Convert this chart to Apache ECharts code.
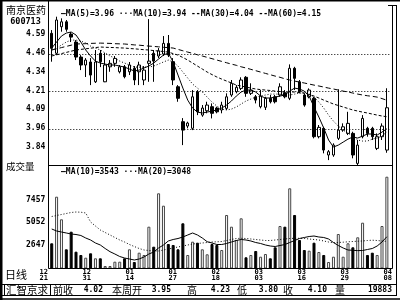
<!DOCTYPE html>
<html><head><meta charset="utf-8">
<script src="https://cdn.jsdelivr.net/npm/echarts@6/dist/echarts.min.js"></script>
<style>html,body{margin:0;padding:0;background:#fff}#c{width:400px;height:300px}</style>
</head><body><div id="c"></div>
<script>
const opens=[4.596,4.463,4.640,4.673,4.591,4.538,4.438,4.385,4.405,4.273,4.463,4.273,4.373,4.396,4.340,4.373,4.340,4.363,4.340,4.285,4.396,4.463,4.445,4.458,4.529,4.407,4.240,4.007,3.978,3.963,4.207,4.051,4.080,4.107,4.098,4.085,4.096,4.185,4.207,4.229,4.303,4.196,4.173,4.107,4.103,4.163,4.173,4.185,4.200,4.163,4.363,4.273,4.185,4.173,4.163,3.907,3.963,3.785,3.785,3.896,3.951,3.929,3.929,3.729,3.907,3.963,3.963,3.829,3.907,3.818];
const closes=[4.496,4.685,4.673,4.623,4.571,4.438,4.385,4.418,4.318,4.405,4.407,4.385,4.396,4.429,4.373,4.307,4.385,4.285,4.385,4.351,4.411,4.411,4.480,4.529,4.451,4.285,4.163,3.951,3.998,4.173,4.073,4.098,4.118,4.063,4.073,4.118,4.173,4.263,4.236,4.285,4.196,4.218,4.151,4.178,4.163,4.140,4.140,4.240,4.173,4.363,4.296,4.207,4.118,4.218,3.907,3.969,3.818,3.807,3.851,3.951,3.973,3.996,3.785,3.851,4.029,3.929,3.907,3.907,3.978,4.100];
const highs=[4.618,4.707,4.696,4.685,4.605,4.551,4.451,4.431,4.431,4.485,4.485,4.465,4.418,4.445,4.385,4.385,4.405,4.378,4.407,4.378,4.691,4.485,4.498,4.578,4.585,4.431,4.251,4.031,4.007,4.218,4.218,4.118,4.140,4.129,4.107,4.140,4.196,4.285,4.251,4.303,4.311,4.263,4.185,4.218,4.173,4.185,4.185,4.263,4.218,4.389,4.373,4.285,4.196,4.229,4.173,3.985,3.973,3.818,3.863,4.223,3.996,4.073,3.940,3.885,4.051,3.973,3.973,3.929,3.996,4.230];
const lows=[4.407,4.451,4.607,4.607,4.538,4.418,4.351,4.305,4.251,4.265,4.371,4.271,4.340,4.373,4.329,4.296,4.318,4.251,4.251,4.251,4.273,4.273,4.431,4.445,4.438,4.251,4.140,3.851,3.963,3.951,4.051,4.040,4.063,4.029,4.063,4.063,4.085,4.173,4.196,4.218,4.173,4.185,4.129,4.096,4.085,4.129,4.129,4.173,4.163,4.151,4.218,4.196,4.107,4.163,3.896,3.896,3.796,3.751,3.773,3.885,3.940,3.918,3.763,3.718,3.896,3.907,3.885,3.818,3.885,3.800];
const ma5=[4.498,4.538,4.578,4.598,4.605,4.585,4.538,4.485,4.445,4.411,4.398,4.391,4.385,4.385,4.378,4.371,4.358,4.345,4.351,4.365,4.378,4.398,4.425,4.451,4.465,4.405,4.318,4.231,4.151,4.098,4.071,4.065,4.071,4.078,4.085,4.098,4.118,4.145,4.178,4.205,4.218,4.218,4.205,4.178,4.165,4.165,4.171,4.178,4.185,4.211,4.231,4.225,4.211,4.178,4.105,4.038,3.965,3.885,3.838,3.851,3.871,3.891,3.905,3.898,3.911,3.925,3.925,3.918,3.938,3.960];
const ma10=[4.485,4.498,4.518,4.538,4.551,4.551,4.545,4.531,4.511,4.498,4.485,4.465,4.445,4.431,4.411,4.398,4.385,4.371,4.371,4.371,4.371,4.378,4.391,4.405,4.418,4.405,4.378,4.338,4.298,4.258,4.231,4.205,4.171,4.138,4.111,4.091,4.085,4.091,4.105,4.125,4.145,4.158,4.171,4.178,4.185,4.191,4.191,4.191,4.185,4.185,4.191,4.198,4.198,4.191,4.171,4.138,4.098,4.051,4.011,3.978,3.951,3.931,3.911,3.885,3.878,3.878,3.891,3.898,3.911,3.940];
const ma30=[4.445,4.453,4.461,4.469,4.477,4.485,4.489,4.493,4.497,4.501,4.505,4.503,4.502,4.501,4.499,4.498,4.495,4.493,4.490,4.487,4.485,4.481,4.478,4.475,4.471,4.461,4.451,4.435,4.418,4.398,4.378,4.358,4.338,4.321,4.305,4.291,4.278,4.265,4.251,4.245,4.238,4.231,4.225,4.221,4.218,4.215,4.211,4.208,4.205,4.205,4.205,4.201,4.198,4.188,4.178,4.165,4.151,4.138,4.125,4.115,4.105,4.095,4.085,4.078,4.071,4.065,4.058,4.051,4.045,4.040];
const ma60=[4.485,4.493,4.501,4.509,4.517,4.525,4.526,4.527,4.529,4.530,4.531,4.530,4.529,4.527,4.526,4.525,4.522,4.519,4.517,4.514,4.511,4.509,4.506,4.503,4.501,4.498,4.489,4.480,4.471,4.463,4.453,4.445,4.436,4.427,4.418,4.409,4.400,4.391,4.383,4.373,4.365,4.356,4.347,4.338,4.329,4.320,4.311,4.303,4.293,4.285,4.278,4.271,4.265,4.258,4.251,4.245,4.238,4.231,4.225,4.218,4.211,4.205,4.198,4.191,4.185,4.180,4.176,4.171,4.161,4.150];
const volumes=[2848,7764,5380,2215,4072,1962,1614,1329,1793,1265,1265,453,453,907,907,1265,2215,875,1856,1614,4599,2489,8123,6815,2774,2669,2215,4958,1614,3017,2911,2215,1687,2774,2669,2141,5834,4599,3196,5485,1371,1614,2036,1434,1719,1265,2426,4673,4599,8650,5834,3196,2141,2067,2911,1930,1614,875,1434,3829,1434,2848,2426,3481,5021,1614,1856,1614,4673,9874];
const vma10=[4357,4146,4040,3935,3829,3776,3671,3407,3196,2880,2669,2299,1962,1719,1455,1297,1192,1086,1192,1403,1719,1930,2352,2669,3091,3249,3354,3513,3724,3935,3724,3407,3017,2880,2721,2721,2827,2985,3143,3249,3196,3091,2932,2827,2669,2563,2510,2616,2721,2932,3143,3354,3460,3565,3618,3513,3460,3302,2932,2616,2352,2141,2109,2078,2088,2194,2299,2563,2985,3543];
const vma20=[5675,5781,5886,5992,6097,6150,6129,6045,5095,4673,4251,3987,3724,3460,3196,2985,2721,2510,2299,2141,2088,2036,2036,2141,2247,2352,2458,2563,2669,2774,2827,2880,2932,2985,3006,3038,3143,3249,3354,3375,3354,3302,3249,3196,3143,3143,3196,3249,3302,3354,3375,3375,3354,3302,3249,3196,3091,2985,2911,2932,2964,3006,3038,3069,3091,3143,3175,3143,3091,3048];
const priceTickLabels=['3.84','3.96','4.09','4.21','4.34','4.46','4.59'];
const volTickLabels=['2647','5052','7457'];
const dateLabels=['12\n21','12\n31','01\n14','01\n27','02\n18','03\n03','03\n16','03\n29','04\n08'];
const gridLines=[4.465,4.215,3.965];

const PMIN=3.715, PMAX=4.785, PSTEP=0.125;
const VMIN=242, VMAX=11056, VSTEP=2405;
const MONO='"DejaVu Sans Mono", monospace';
const CJK='"Noto Sans CJK SC", sans-serif';

const cats=opens.map((_,i)=>i);
const candleData=opens.map((o,i)=>[o,closes[i],lows[i],highs[i]]);
const volData=volumes.map((v,i)=>{
  const down=closes[i]<opens[i];
  return {value:v,itemStyle:down?{color:'#000',borderColor:'#000',borderWidth:1}:{color:'#fff',borderColor:'#444',borderWidth:1}};
});
function tickFmt(v,min,step,labels){
  const r=(v-min)/step, k=Math.round(r);
  if(Math.abs(r-k)>1e-3) return '';
  return labels[k-1]||'';
}
function T(text,x,y,font,align){
  align=align||'left';
  return {type:'text',x:x,y:y,z:100,silent:true,style:{text:text,font:font,fill:'#000',align:align,verticalAlign:'middle',textAlign:align,textVerticalAlign:'middle'}};
}
function L(x1,y1,x2,y2,w){
  return {type:'line',z:100,silent:true,shape:{x1:x1,y1:y1,x2:x2,y2:y2},style:{stroke:'#000',lineWidth:w||1}};
}
function R(x,y,w,h){
  return {type:'rect',z:100,silent:true,shape:{x:x,y:y,width:w,height:h},style:{fill:'#000'}};
}
const maLine=(data,type)=>({type:'line',xAxisIndex:0,yAxisIndex:0,data:data,symbol:'none',showSymbol:false,silent:true,z:4,
  lineStyle:{color:'#000',width:1,type:type}});
const vLine=(data,type)=>({type:'line',xAxisIndex:1,yAxisIndex:1,data:data,symbol:'none',showSymbol:false,silent:true,z:4,
  lineStyle:{color:'#000',width:1,type:type}});

const axisLab={color:'#000',fontFamily:MONO,fontWeight:'bold',fontSize:8};
const chart=echarts.init(document.getElementById('c'),null,{renderer:'canvas'});
chart.setOption({
  animation:false,
  backgroundColor:'#fff',
  textStyle:{fontFamily:MONO},
  grid:[
    {left:49.3,right:10.7,top:5,height:160.5,outerBoundsMode:'none',containLabel:false},
    {left:49.3,right:10.7,top:165.5,height:102.5,outerBoundsMode:'none',containLabel:false},
    {left:43.8,right:12.2,top:267,height:1,outerBoundsMode:'none',containLabel:false}
  ],
  xAxis:[
    {type:'category',gridIndex:0,data:cats,show:false,boundaryGap:true},
    {type:'category',gridIndex:1,data:cats,show:false,boundaryGap:true},
    {type:'value',gridIndex:2,min:0,max:8,interval:1,axisLine:{show:false},axisTick:{show:false},splitLine:{show:false},
     axisLabel:Object.assign({},axisLab,{fontSize:7,lineHeight:5.6,margin:1.5,formatter:v=>dateLabels[Math.round(v)]||''})}
  ],
  yAxis:[
    {type:'value',gridIndex:0,min:PMIN,max:PMAX,interval:PSTEP,axisLine:{show:false},axisTick:{show:false},splitLine:{show:false},
     axisLabel:Object.assign({},axisLab,{margin:4,formatter:v=>tickFmt(v,PMIN,PSTEP,priceTickLabels)})},
    {type:'value',gridIndex:1,min:VMIN,max:VMAX,interval:VSTEP,axisLine:{show:false},axisTick:{show:false},splitLine:{show:false},
     axisLabel:Object.assign({},axisLab,{margin:4,formatter:v=>tickFmt(v,VMIN,VSTEP,volTickLabels)})},
    {type:'value',gridIndex:2,show:false}
  ],
  series:[
    {type:'candlestick',xAxisIndex:0,yAxisIndex:0,data:candleData,barWidth:3,silent:true,z:3,
     itemStyle:{color:'#fff',color0:'#000',borderColor:'#000',borderColor0:'#000',borderWidth:1},
     markLine:{silent:true,symbol:['none','none'],label:{show:false},animation:false,
       lineStyle:{color:'#000',width:1,type:[1,2],opacity:1},data:gridLines.map(v=>({yAxis:v}))}},
    maLine(ma5,'solid'),
    maLine(ma10,[1,2]),
    maLine(ma30,[3,2]),
    maLine(ma60,[5,3]),
    {type:'bar',xAxisIndex:1,yAxisIndex:1,data:volData,barWidth:3,silent:true,z:2},
    vLine(vma10,'solid'),
    vLine(vma20,[1,2])
  ],
  graphic:{elements:[
    R(0,0,2.5,300), R(0,0,400,1.5),
    L(48.5,0,48.5,268.5), L(392.5,5,392.5,268.5), L(396.5,5,396.5,296), L(388,5.5,397,5.5),
    L(48.5,165.5,392.5,165.5), L(48.5,268.5,392.5,268.5),
    L(2,284.5,396.5,284.5), L(2,295.5,396.5,295.5), L(0,299,400,299,1.5),
    L(4.5,284.5,4.5,295.5), L(50.5,284.5,50.5,295.5),
    T('南京医药',6,10.5,'10px '+CJK),
    T('600713',25.5,21.7,'bold 8.5px '+MONO,'center'),
    T('成交量',6,166.5,'9.5px '+CJK),
    T('日线',5,275,'11px '+CJK),
    T('—MA(5)=3.96 ···MA(10)=3.94 --MA(30)=4.04 --MA(60)=4.15',61,13.7,'bold 8px '+MONO),
    T('—MA(10)=3543 ···MA(20)=3048',61,172.3,'bold 8px '+MONO),
    T('汇智京求',6,290,'10.5px '+CJK),
    T('前收',53,290,'10px '+CJK),
    T('4.02',103,290,'bold 8px '+MONO,'right'),
    T('本周开',112,290,'10px '+CJK),
    T('3.95',171,290,'bold 8px '+MONO,'right'),
    T('高',187,290,'10px '+CJK),
    T('4.23',230,290,'bold 8px '+MONO,'right'),
    T('低',237,290,'10px '+CJK),
    T('3.80',278,290,'bold 8px '+MONO,'right'),
    T('收',283,290,'10px '+CJK),
    T('4.10',327,290,'bold 8px '+MONO,'right'),
    T('量',335,290,'10px '+CJK),
    T('19883',392,290,'bold 8px '+MONO,'right')
  ]}
});
</script>
</body></html>
